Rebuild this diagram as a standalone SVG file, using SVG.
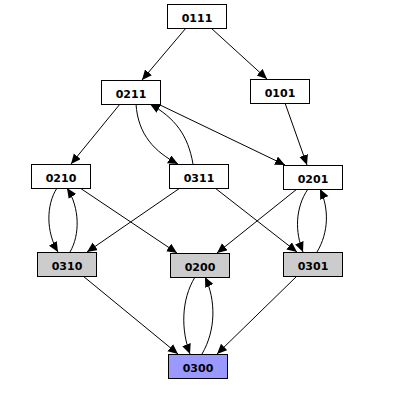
<svg xmlns="http://www.w3.org/2000/svg" width="401" height="405" viewBox="0 0 401 405">
<defs>
<marker id="ah" markerUnits="userSpaceOnUse" markerWidth="11" markerHeight="10" refX="10" refY="4.5" orient="auto">
<path d="M0,0 L10,4.5 L0,9 z" fill="#000"/>
</marker>
<style>
.n rect{fill:#fff;stroke:#000;stroke-width:1}
.n.g rect{fill:#cccccc}
.n.b rect{fill:#9999ff}
.n text{font-family:"DejaVu Sans",sans-serif;font-size:11px;font-weight:bold;text-anchor:middle;fill:#000}
#edges path{fill:none;stroke:#000;stroke-width:1;marker-end:url(#ah)}
</style>
</defs>
<rect width="401" height="405" fill="#fff"/>
<g id="edges">
<path d="M186,28 L142,80"/>
<path d="M211,28 L267,79"/>
<path d="M120,104 L71,164"/>
<path d="M136,104 C138,135 155,152 178,164"/>
<path d="M193,164 C188,135 175,118 150,104"/>
<path d="M158,104 L285,165"/>
<path d="M285,103 L307,165"/>
<path d="M57,188 C46,205 46,232 58,252"/>
<path d="M70,252 C80,235 80,208 67,188"/>
<path d="M80,188 L177,253"/>
<path d="M180,188 L87,252"/>
<path d="M215,188 L297,252"/>
<path d="M297,189 L217,253"/>
<path d="M308,189 C295,208 295,232 303,252"/>
<path d="M317,252 C329,232 329,208 320,189"/>
<path d="M83,276 L178,354"/>
<path d="M195,277 C181,300 181,330 190,354"/>
<path d="M202,354 C216,330 216,300 205,277"/>
<path d="M297,276 L217,354"/>
</g>
<g id="n0111" class="n"><rect x="167.5" y="4.5" width="59" height="24"/><text x="197" y="21.5">0111</text></g>
<g id="n0211" class="n"><rect x="101.5" y="80.5" width="59" height="24"/><text x="131" y="97.5">0211</text></g>
<g id="n0101" class="n"><rect x="250.5" y="79.5" width="59" height="24"/><text x="280" y="96.5">0101</text></g>
<g id="n0210" class="n"><rect x="31.5" y="164.5" width="59" height="24"/><text x="61" y="181.5">0210</text></g>
<g id="n0311" class="n"><rect x="169.5" y="164.5" width="59" height="24"/><text x="199" y="181.5">0311</text></g>
<g id="n0201" class="n"><rect x="283.5" y="165.5" width="59" height="24"/><text x="313" y="182.5">0201</text></g>
<g id="n0310" class="n g"><rect x="37.5" y="252.5" width="59" height="24"/><text x="67" y="269.5">0310</text></g>
<g id="n0200" class="n g"><rect x="170.5" y="253.5" width="59" height="24"/><text x="200" y="270.5">0200</text></g>
<g id="n0301" class="n g"><rect x="283.5" y="252.5" width="59" height="24"/><text x="313" y="269.5">0301</text></g>
<g id="n0300" class="n b"><rect x="168.5" y="354.5" width="59" height="24"/><text x="198" y="371.5">0300</text></g>
</svg>
